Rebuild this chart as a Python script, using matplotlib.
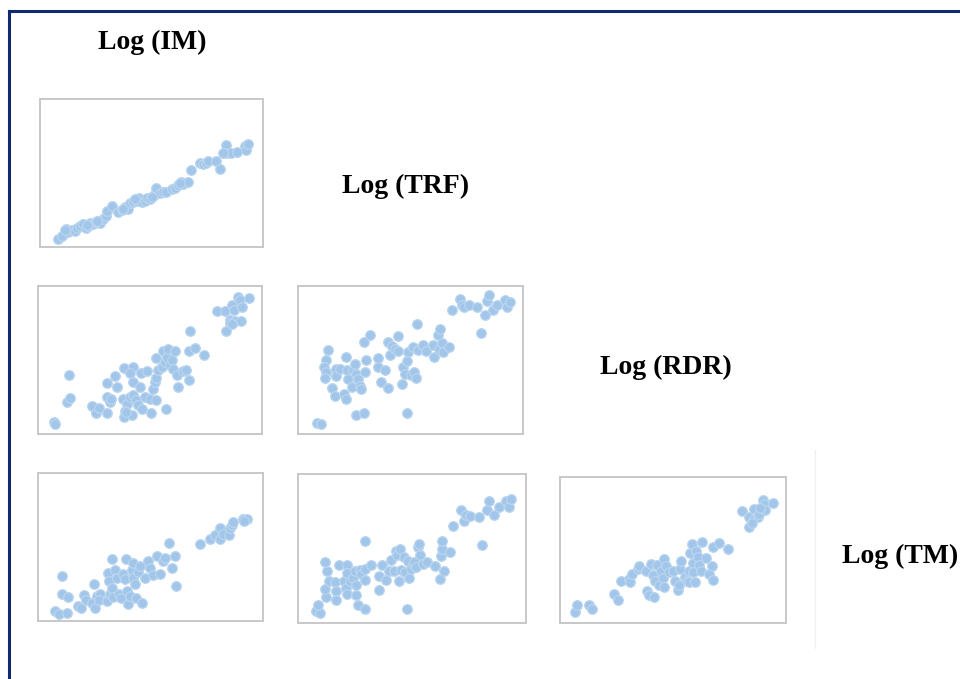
import numpy as np
import matplotlib.pyplot as plt
from matplotlib.lines import Line2D

# each panel is scaled 0-100 along both axes (share of the variable's range)

# Log(TRF) against Log(IM)
trf_im_x = [8.2, 9.7, 11.6, 12.7, 14.2, 15.7, 16.4, 17.9, 19.4, 20.6, 21.6, 22.4, 23.9, 25.1,
            26.1, 26.9, 28.4, 29.6, 29.9, 32.1, 35.1, 36.6, 38.1, 39.6, 40.3, 41.8, 43.3, 44.5,
            45.5, 47.0, 47.8, 49.3, 50.7, 51.5, 52.2, 53.7, 55.2, 56.7, 59.0, 60.4, 61.9, 63.4,
            64.2, 66.4, 67.9, 71.6, 73.1, 74.6, 75.4, 78.8, 80.6, 83.6, 83.3, 85.8, 88.1, 91.8,
            92.5, 93.3, 11.2, 20.9, 25.4, 37.3, 42.5, 50.0, 62.7, 82.1]
trf_im_y = [5.6, 7.4, 12.3, 10.0, 11.2, 10.5, 12.7, 14.5, 15.4, 12.7, 14.5, 16.3, 15.6, 16.7,
            17.9, 16.3, 19.0, 21.2, 24.6, 27.9, 23.9, 25.2, 26.8, 25.7, 29.7, 30.1, 31.3, 32.8,
            30.1, 31.3, 32.8, 32.4, 34.6, 35.7, 40.2, 36.8, 37.3, 37.3, 39.1, 40.2, 41.7, 44.0,
            42.4, 44.0, 52.0, 56.9, 55.8, 56.9, 58.0, 58.0, 52.5, 69.0, 63.2, 63.6, 64.3, 68.1,
            65.8, 69.6, 11.2, 14.9, 17.9, 25.7, 32.4, 33.5, 43.1, 63.2]

# Log(RDR) against Log(IM)
rdr_im_x = [7.0, 7.5, 13.9, 13.0, 14.5, 24.3, 25.8, 27.3, 30.9, 30.9, 32.1, 32.8, 31.0, 34.3,
            35.4, 38.5, 42.2, 41.0, 42.5, 38.1, 39.6, 41.0, 42.5, 43.7, 44.8, 45.5, 46.3, 47.8,
            50.0, 50.3, 52.7, 38.8, 38.5, 41.8, 39.3, 57.2, 45.8, 48.5, 51.2, 52.2, 52.9, 52.7,
            53.7, 55.2, 55.7, 56.7, 57.5, 58.2, 59.0, 59.7, 60.4, 61.2, 61.9, 62.7, 64.9, 66.1,
            67.2, 67.2, 67.9, 70.1, 74.2, 80.1, 83.6, 84.0, 85.5, 85.8, 86.6, 87.6, 88.1, 89.1,
            90.3, 91.0, 90.6, 94.0, 86.6]
rdr_im_y = [8.3, 6.7, 40.0, 21.7, 24.6, 18.8, 14.3, 17.9, 13.9, 25.1, 21.7, 23.9, 34.7, 39.1,
            31.8, 44.7, 45.2, 41.2, 35.1, 23.9, 20.1, 25.1, 26.2, 22.8, 19.5, 31.8, 17.2, 25.1,
            23.9, 13.9, 22.8, 15.7, 11.2, 12.8, 15.0, 16.6, 41.2, 42.5, 30.6, 35.1, 38.0, 51.5,
            43.0, 45.2, 56.4, 48.5, 51.9, 57.5, 46.3, 49.7, 43.8, 55.9, 39.6, 31.8, 42.5, 43.4,
            36.7, 55.9, 69.8, 58.2, 53.7, 83.2, 83.2, 69.4, 77.0, 74.7, 87.2, 83.6, 76.5, 92.6,
            90.4, 85.9, 76.1, 91.7, 74.3]

# Log(RDR) against Log(TRF)
rdr_trf_x = [8.5, 10.4, 13.4, 12.3, 11.5, 12.3, 11.9, 14.9, 16.3, 16.8, 17.1, 18.6, 20.4, 21.5,
             21.2, 21.8, 22.3, 23.8, 24.5, 25.3, 26.0, 26.8, 27.5, 28.2, 29.7, 30.2, 29.3, 32.2,
             26.0, 29.3, 35.7, 35.7, 36.7, 38.6, 40.1, 40.1, 41.6, 40.9, 43.1, 44.6, 44.6, 46.1,
             46.8, 47.5, 48.3, 48.3, 49.0, 50.1, 50.9, 51.5, 52.3, 52.7, 53.5, 55.4, 57.0, 59.9,
             60.5, 62.4, 63.1, 62.8, 63.9, 64.6, 66.9, 68.4, 71.8, 72.8, 73.9, 75.8, 79.5, 81.3,
             83.2, 83.9, 84.7, 86.6, 88.4, 92.1, 92.9, 94.1]
rdr_trf_y = [7.2, 6.5, 56.8, 49.7, 45.6, 41.8, 38.0, 31.3, 25.5, 44.1, 38.9, 44.1, 26.8, 23.9,
             51.9, 43.4, 37.4, 31.8, 43.0, 47.4, 40.3, 37.4, 32.2, 30.6, 41.8, 50.1, 62.0, 67.1,
             12.8, 14.3, 51.5, 45.6, 35.1, 43.0, 62.0, 31.3, 59.7, 53.7, 57.5, 66.4, 55.9, 34.0,
             45.6, 40.7, 49.2, 13.9, 55.3, 39.6, 59.1, 41.8, 38.0, 74.3, 56.8, 60.4, 55.9, 60.4,
             52.3, 67.1, 70.9, 57.5, 61.3, 55.3, 58.6, 83.7, 91.1, 87.2, 85.5, 87.2, 85.5, 68.0,
             80.5, 89.9, 94.0, 83.7, 87.2, 90.4, 85.9, 89.5]

# Log(TM) against Log(IM)
tm_im_x = [7.4, 9.4, 12.9, 10.8, 10.8, 13.4, 17.8, 19.3, 20.4, 21.5, 23.8, 24.8, 25.3, 26.0,
           27.5, 27.2, 30.5, 31.2, 31.6, 31.9, 32.7, 33.1, 33.4, 34.2, 34.9, 36.1, 37.1, 37.6,
           38.6, 39.1, 39.4, 40.1, 40.9, 41.6, 42.1, 42.4, 43.1, 43.5, 44.6, 45.3, 46.1, 47.5,
           49.0, 49.8, 50.9, 52.7, 54.2, 55.7, 56.5, 58.4, 59.4, 60.9, 61.4, 72.1, 76.5, 78.8,
           80.7, 81.0, 82.2, 84.7, 85.1, 86.2, 86.6, 91.1, 92.9, 91.7]
tm_im_y = [6.7, 4.9, 5.6, 30.3, 18.4, 16.2, 10.1, 9.0, 17.5, 13.9, 12.4, 25.2, 8.5, 16.9,
           18.4, 13.9, 13.5, 32.6, 27.0, 18.4, 22.5, 42.2, 16.2, 34.8, 29.2, 18.4, 15.3, 31.9,
           28.1, 42.2, 20.2, 11.2, 16.9, 34.2, 39.3, 28.8, 24.7, 15.7, 33.3, 37.1, 12.4, 28.8,
           40.4, 35.5, 31.0, 43.8, 31.9, 40.4, 42.7, 52.8, 35.5, 43.8, 23.6, 52.1, 55.7, 58.0,
           62.9, 55.7, 58.9, 58.0, 62.9, 65.2, 67.0, 69.2, 69.2, 67.9]

# Log(TM) against Log(TRF)
tm_trf_x = [7.7, 9.8, 8.8, 12.1, 11.7, 12.7, 11.7, 13.6, 16.1, 16.8, 16.5, 18.2, 20.4, 21.2,
            21.5, 21.5, 21.5, 22.6, 24.1, 24.8, 25.5, 25.5, 26.3, 27.0, 27.7, 29.2, 29.6, 29.6,
            29.6, 32.1, 35.5, 35.5, 36.9, 38.7, 40.1, 40.9, 41.9, 42.8, 43.4, 44.5, 44.8, 45.3,
            46.3, 47.1, 47.8, 48.3, 48.9, 49.6, 50.4, 51.1, 51.8, 52.6, 53.0, 53.6, 55.0, 56.5,
            59.9, 62.3, 62.8, 63.2, 63.2, 64.2, 66.7, 67.9, 71.5, 73.0, 73.7, 75.5, 79.3, 80.7,
            82.8, 83.9, 86.1, 88.0, 91.2, 92.7, 93.4]
tm_trf_y = [8.3, 6.7, 11.9, 17.2, 23.0, 35.1, 40.9, 28.0, 27.5, 21.7, 15.7, 39.1, 28.4, 23.5,
            19.5, 39.1, 33.6, 28.4, 30.2, 35.1, 25.3, 18.6, 12.3, 35.6, 32.9, 9.6, 55.3, 29.1,
            36.2, 38.7, 31.3, 22.4, 38.7, 29.1, 35.1, 42.5, 35.1, 48.5, 45.4, 28.4, 49.9, 35.8,
            44.1, 34.2, 9.6, 41.4, 30.2, 36.5, 39.6, 40.9, 37.4, 50.8, 53.0, 45.4, 39.6, 40.9,
            38.0, 29.8, 44.7, 49.9, 54.8, 35.1, 47.7, 64.9, 76.1, 68.7, 72.3, 71.6, 70.9, 52.1,
            76.1, 82.1, 72.3, 77.6, 82.1, 77.6, 83.4]

# Log(TM) against Log(RDR)
tm_rdr_x = [6.8, 7.4, 12.9, 14.2, 24.0, 25.5, 27.0, 30.4, 30.9, 31.9, 34.4, 34.8, 38.1, 38.3,
            39.2, 40.3, 41.3, 41.7, 42.2, 42.8, 44.0, 44.7, 45.4, 46.2, 46.2, 46.9, 48.1, 50.1,
            51.0, 52.1, 52.5, 53.1, 53.5, 55.5, 56.0, 56.9, 57.2, 57.5, 58.4, 59.0, 59.0, 59.9,
            60.2, 60.9, 61.4, 62.4, 62.8, 64.6, 66.1, 67.3, 67.6, 67.8, 70.5, 74.2, 80.5, 83.5,
            83.8, 85.5, 86.0, 87.5, 87.9, 89.7, 90.4, 90.9, 94.4, 88.5, 85.0]
tm_rdr_y = [7.6, 12.1, 12.6, 9.8, 19.9, 16.0, 28.6, 30.4, 28.1, 33.6, 37.3, 38.9, 35.9, 22.2,
            19.0, 40.5, 33.2, 17.6, 29.1, 39.6, 25.9, 35.9, 30.9, 43.5, 24.5, 38.9, 35.0, 35.5,
            29.1, 22.9, 25.9, 37.3, 42.8, 31.4, 28.6, 35.9, 28.1, 48.1, 53.8, 41.2, 35.0, 28.1,
            49.2, 45.1, 40.0, 35.5, 55.6, 44.6, 33.6, 38.9, 29.7, 51.9, 54.9, 51.0, 76.7, 65.7,
            72.5, 70.3, 77.8, 72.5, 74.8, 84.0, 81.7, 77.1, 82.4, 79.0, 68.6]

labels = ['Log (IM)', 'Log (TRF)', 'Log (RDR)', 'Log (TM)']

panels = [
    ([0.0417, 0.6362, 0.2323, 0.2180], trf_im_x, trf_im_y),
    ([0.0396, 0.3608, 0.2333, 0.2180], rdr_im_x, rdr_im_y),
    ([0.3104, 0.3608, 0.2344, 0.2180], rdr_trf_x, rdr_trf_y),
    ([0.0396, 0.0854, 0.2344, 0.2180], tm_im_x, tm_im_y),
    ([0.3104, 0.0825, 0.2375, 0.2194], tm_trf_x, tm_trf_y),
    ([0.5833, 0.0825, 0.2354, 0.2150], tm_rdr_x, tm_rdr_y),
]

# centres of the diagonal labels, figure fractions
label_pos = [(0.159, 0.938), (0.422, 0.726), (0.694, 0.459), (0.938, 0.181)]

fig = plt.figure(figsize=(9.6, 6.79), dpi=100)

for rect, xs, ys in panels:
    ax = fig.add_axes(rect)
    ax.scatter(xs, ys, s=48, facecolor='#a1c6e9', edgecolor='#bad5ef',
               linewidth=0.9, zorder=3)
    ax.set_xlim(0, 100)
    ax.set_ylim(0, 100)
    ax.set_xticks([])
    ax.set_yticks([])
    for sp in ax.spines.values():
        sp.set_color('#c8c8c8')
        sp.set_linewidth(1.4)

for (x, y), txt in zip(label_pos, labels):
    fig.text(x, y, txt, ha='center', va='center', fontsize=20,
             fontweight='bold', family='Liberation Serif')

# navy frame on top and left, plus a faint edge right of the last row
fig.add_artist(Line2D([0.0098, 0.0098], [0.0, 0.984], color='#0f2a6e', lw=2.2))
fig.add_artist(Line2D([0.0098, 1.0], [0.984, 0.984], color='#0f2a6e', lw=2.2))
fig.add_artist(Line2D([0.849, 0.849], [0.046, 0.337], color='#f1f1f1', lw=1))

fig.savefig('out.png', dpi=100)
